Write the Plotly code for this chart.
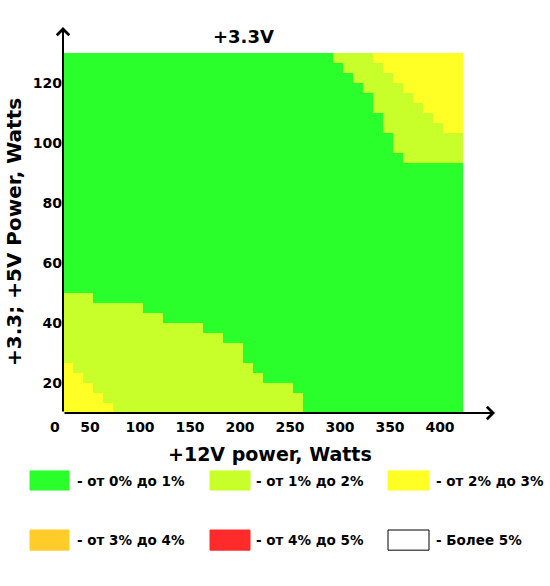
import plotly.graph_objects as go

# ---- data ----
# +12V power (column centers, W)
power_12v = [28, 38, 48, 58, 68, 78, 88, 98, 108, 118,
             128, 138, 148, 158, 168, 178, 188, 198, 208, 218,
             228, 238, 248, 258, 268, 278, 288, 298, 308, 318,
             328, 338, 348, 358, 368, 378, 388, 398, 408, 418]
# +3.3; +5V power (row centers, W)
power_33_5v = [11.67, 15.0, 18.33, 21.67, 25.0, 28.33, 31.67, 35.0, 38.33, 41.67,
               45.0, 48.33, 51.67, 55.0, 58.33, 61.67, 65.0, 68.33, 71.67, 75.0,
               78.33, 81.67, 85.0, 88.33, 91.67, 95.0, 98.33, 101.67, 105.0, 108.33,
               111.67, 115.0, 118.33, 121.67, 125.0, 128.33]

# lower-left zone: number of cells (from bottom) per column at level >= 1 and level >= 2
low_level1_rows = [12, 12, 12, 11, 11, 11, 11, 11, 10, 10,
                   9, 9, 9, 9, 8, 8, 7, 7, 5, 4,
                   3, 3, 3, 2, 0, 0, 0, 0, 0, 0,
                   0, 0, 0, 0, 0, 0, 0, 0, 0, 0]
low_level2_rows = [5, 4, 3, 2, 1] + [0] * 35
# upper-right zone: per row (from top), first column index at level >= 1 and >= 2
top_level1_col = [27, 28, 29, 30, 31, 31, 32, 32, 33, 33, 34] + [40] * 25
top_level2_col = [31, 32, 33, 34, 35, 36, 37, 38] + [40] * 28

legend_labels = ["- от 0% до 1%", "- от 1% до 2%", "- от 2% до 3%",
                 "- от 3% до 4%", "- от 4% до 5%", "- Более 5%"]
level_colors = ["#2BFF2B", "#C8FF2A", "#FFFF25", "#FFCC2A", "#FF2A2A", "#FFFFFF"]
x_ticks = [50, 100, 150, 200, 250, 300, 350, 400]
y_ticks = [20, 40, 60, 80, 100, 120]

# ---- build the grid ----
nrow, ncol = len(power_33_5v), len(power_12v)
z = []
for i in range(nrow):
    row = []
    r_top = nrow - 1 - i
    for k in range(ncol):
        v = 0
        if i < low_level1_rows[k]:
            v = 1
        if i < low_level2_rows[k]:
            v = 2
        if k >= top_level1_col[r_top]:
            v = max(v, 1)
        if k >= top_level2_col[r_top]:
            v = max(v, 2)
        row.append(v)
    z.append(row)

n = len(level_colors)
colorscale = []
for j, c in enumerate(level_colors):
    colorscale.append([j / n, c])
    colorscale.append([(j + 1) / n, c])

FONT = "DejaVu Sans"
fig = go.Figure(go.Heatmap(
    x=power_12v, y=power_33_5v, z=z,
    zmin=-0.5, zmax=n - 0.5, colorscale=colorscale,
    showscale=False, hoverinfo="skip"))

fig.update_layout(
    width=550, height=586,
    margin=dict(l=63, r=87, t=53, b=173),
    plot_bgcolor="white", paper_bgcolor="white",
    showlegend=False,
    font=dict(family=FONT, color="black"),
)
fig.update_xaxes(range=[23, 423], tickvals=x_ticks, showgrid=False, zeroline=False,
                 showline=False, ticks="", ticklabelstandoff=4,
                 tickfont=dict(family=FONT, size=14, weight="bold", color="black"))
fig.update_yaxes(range=[10, 130], tickvals=y_ticks, showgrid=False, zeroline=False,
                 showline=False, ticks="",
                 tickfont=dict(family=FONT, size=14, weight="bold", color="black"))

ann = []
# axes with arrows
ann.append(dict(xref="paper", yref="paper", x=0, y=1.072, ax=0, ay=386,
                showarrow=True, arrowhead=4, arrowsize=1.2, arrowwidth=2,
                arrowcolor="black", text=""))
ann.append(dict(xref="paper", yref="paper", x=1.08, y=0, ax=-432, ay=0,
                showarrow=True, arrowhead=4, arrowsize=1.2, arrowwidth=2,
                arrowcolor="black", text=""))
# origin label
ann.append(dict(xref="paper", yref="paper", x=-0.02, y=-0.039, text="0",
                xanchor="center", yanchor="middle",
                showarrow=False, font=dict(size=14, weight="bold")))
# titles
ann.append(dict(xref="paper", yref="paper", x=0.45, y=1.047, text="+3.3V",
                xanchor="center", yanchor="middle",
                showarrow=False, font=dict(size=18, weight="bold")))
ann.append(dict(xref="paper", yref="paper", x=0.518, y=-0.114, text="+12V power, Watts",
                xanchor="center", yanchor="middle",
                showarrow=False, font=dict(size=19, weight="bold")))
ann.append(dict(xref="paper", yref="paper", x=-0.1225, y=0.503, text="+3.3; +5V Power, Watts",
                xanchor="center", yanchor="middle",
                textangle=-90, showarrow=False, font=dict(size=20, weight="bold")))

# legend swatches & labels
shapes = []
sw_x = [(-0.0825, 0.015), (0.3675, 0.4675), (0.8125, 0.915)]
sw_y = [(-0.214, -0.161), (-0.381, -0.325)]
txt_x = [0.03, 0.4775, 0.9275]
txt_y = [-0.189, -0.353]
for j, (lab, col) in enumerate(zip(legend_labels, level_colors)):
    r, c = divmod(j, 3)
    shapes.append(dict(type="rect", xref="paper", yref="paper",
                       x0=sw_x[c][0], x1=sw_x[c][1], y0=sw_y[r][0], y1=sw_y[r][1],
                       fillcolor=col,
                       line=dict(color="black" if col == "#FFFFFF" else col, width=1)))
    ann.append(dict(xref="paper", yref="paper", x=txt_x[c], y=txt_y[r], text=lab,
                    xanchor="left", yanchor="middle",
                    showarrow=False, font=dict(size=13.5, weight="bold")))

fig.update_layout(annotations=ann, shapes=shapes)
fig.write_html("out.html", config={"displayModeBar": False},
               post_script="document.body.style.margin='0px';")
